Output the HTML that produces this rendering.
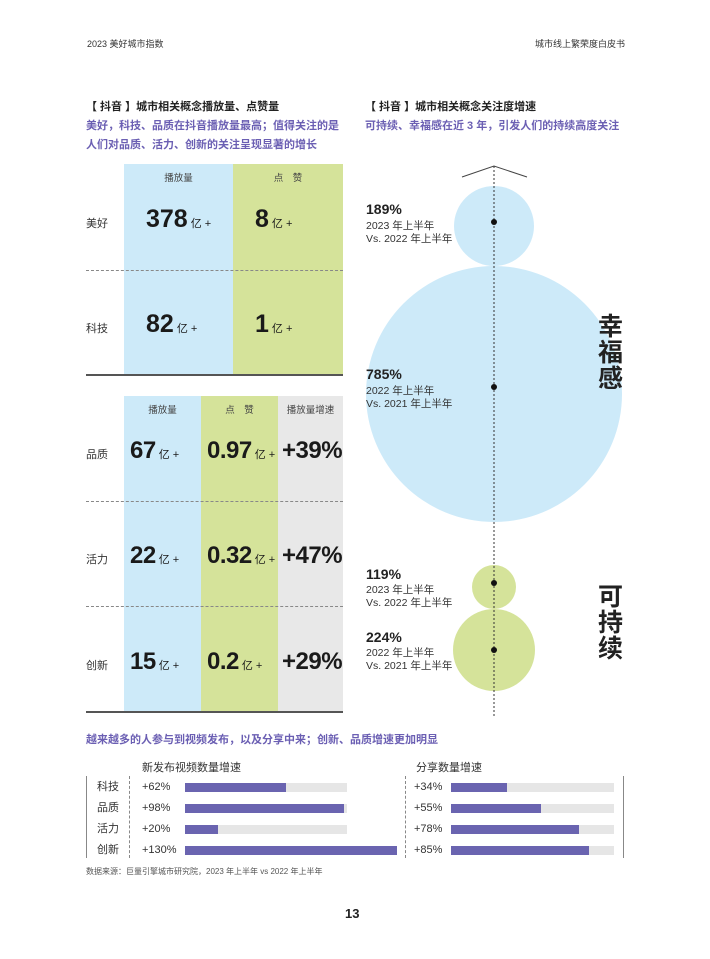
<!DOCTYPE html>
<html><head><meta charset="utf-8"><style>
*{margin:0;padding:0;box-sizing:border-box}
body{width:710px;height:959px;background:#fff;position:relative;font-family:"Liberation Sans","Noto Sans CJK SC",sans-serif;color:#222;overflow:hidden}
.a{position:absolute;white-space:nowrap}
.t{font-size:11px;font-weight:bold;color:#222}
.p{font-size:11px;font-weight:bold;color:#6b5fb3;line-height:19px}
.big{font-weight:bold;font-size:25px;color:#1a1a1a}
.b2{font-size:24px;letter-spacing:-0.5px}
.big small{font-size:11px;font-weight:normal;margin-left:3px;letter-spacing:0}
.h{font-size:9.5px;color:#444}
.lbl{font-size:11px;color:#333}
.pc{font-size:14px;font-weight:bold;color:#222}
.sub{font-size:10.5px;color:#333;line-height:13px}
.track{position:absolute;height:9px;background:#e6e6e6}
.fill{position:absolute;height:9px;background:#6a64b0}
</style></head><body>
<div class="a" style="left:87px;top:37px;font-size:9px;color:#333">2023 美好城市指数</div>
<div class="a" style="left:535px;top:37px;font-size:9px;color:#333">城市线上繁荣度白皮书</div>

<div class="a t" style="left:86px;top:98px">【 抖音 】城市相关概念播放量、点赞量</div>
<div class="a p" style="left:86px;top:117px;white-space:normal;width:262px">美好，科技、品质在抖音播放量最高；值得关注的是人们对品质、活力、创新的关注呈现显著的增长</div>

<!-- table1 -->
<div class="a" style="left:124px;top:164px;width:109px;height:211px;background:#cdeaf9"></div>
<div class="a" style="left:233px;top:164px;width:110px;height:211px;background:#d5e39a"></div>
<div class="a h" style="left:124px;top:170px;width:109px;text-align:center">播放量</div>
<div class="a h" style="left:233px;top:170px;width:110px;text-align:center">点　赞</div>
<div class="a" style="left:86px;top:270px;width:257px;border-top:1px dashed #888"></div>
<div class="a" style="left:86px;top:374px;width:257px;border-top:2px solid #555"></div>
<div class="a lbl" style="left:86px;top:215px">美好</div>
<div class="a lbl" style="left:86px;top:320px">科技</div>
<div class="a big" style="left:146px;top:205px">378<small>亿 +</small></div>
<div class="a big" style="left:255px;top:205px">8<small>亿 +</small></div>
<div class="a big" style="left:146px;top:310px">82<small>亿 +</small></div>
<div class="a big" style="left:255px;top:310px">1<small>亿 +</small></div>

<!-- table2 -->
<div class="a" style="left:124px;top:396px;width:77px;height:316px;background:#cdeaf9"></div>
<div class="a" style="left:201px;top:396px;width:77px;height:316px;background:#d5e39a"></div>
<div class="a" style="left:278px;top:396px;width:65px;height:316px;background:#e8e8e8"></div>
<div class="a h" style="left:124px;top:402px;width:77px;text-align:center">播放量</div>
<div class="a h" style="left:201px;top:402px;width:77px;text-align:center">点　赞</div>
<div class="a h" style="left:278px;top:402px;width:65px;text-align:center">播放量增速</div>
<div class="a" style="left:86px;top:501px;width:257px;border-top:1px dashed #888"></div>
<div class="a" style="left:86px;top:606px;width:257px;border-top:1px dashed #888"></div>
<div class="a" style="left:86px;top:711px;width:257px;border-top:2px solid #555"></div>
<div class="a lbl" style="left:86px;top:446px">品质</div>
<div class="a lbl" style="left:86px;top:551px">活力</div>
<div class="a lbl" style="left:86px;top:657px">创新</div>
<div class="a big b2" style="left:130px;top:437px">67<small>亿 +</small></div>
<div class="a big b2" style="left:207px;top:437px">0.97<small>亿 +</small></div>
<div class="a big b2" style="left:282px;top:437px">+39%</div>
<div class="a big b2" style="left:130px;top:542px">22<small>亿 +</small></div>
<div class="a big b2" style="left:207px;top:542px">0.32<small>亿 +</small></div>
<div class="a big b2" style="left:282px;top:542px">+47%</div>
<div class="a big b2" style="left:130px;top:648px">15<small>亿 +</small></div>
<div class="a big b2" style="left:207px;top:648px">0.2<small>亿 +</small></div>
<div class="a big b2" style="left:282px;top:648px">+29%</div>

<!-- right -->
<div class="a t" style="left:365px;top:98px">【 抖音 】城市相关概念关注度增速</div>
<div class="a p" style="left:365px;top:117px">可持续、幸福感在近 3 年，引发人们的持续高度关注</div>
<svg class="a" style="left:0;top:0" width="710" height="959">
<circle cx="494" cy="226" r="40" fill="#cdeaf9"/>
<circle cx="494" cy="394" r="128" fill="#cdeaf9"/>
<circle cx="494" cy="587" r="22" fill="#d5e39a"/>
<circle cx="494" cy="650" r="41" fill="#d5e39a"/>
<line x1="494" y1="166" x2="494" y2="716" stroke="#333" stroke-width="1" stroke-dasharray="2,2"/>
<polyline points="462,177 494,166 527,177" fill="none" stroke="#444" stroke-width="1"/>
<circle cx="494" cy="222" r="3" fill="#111"/>
<circle cx="494" cy="387" r="3" fill="#111"/>
<circle cx="494" cy="583" r="3" fill="#111"/>
<circle cx="494" cy="650" r="3" fill="#111"/>
</svg>
<div class="a pc" style="left:366px;top:201px">189%</div>
<div class="a sub" style="left:366px;top:220px">2023 年上半年<br>Vs. 2022 年上半年</div>
<div class="a pc" style="left:366px;top:366px">785%</div>
<div class="a sub" style="left:366px;top:385px">2022 年上半年<br>Vs. 2021 年上半年</div>
<div class="a pc" style="left:366px;top:566px">119%</div>
<div class="a sub" style="left:366px;top:584px">2023 年上半年<br>Vs. 2022 年上半年</div>
<div class="a pc" style="left:366px;top:629px">224%</div>
<div class="a sub" style="left:366px;top:647px">2022 年上半年<br>Vs. 2021 年上半年</div>
<div class="a" style="left:598px;top:314px;font-size:25px;font-weight:bold;line-height:26px;white-space:normal;width:28px">幸福感</div>
<div class="a" style="left:598px;top:584px;font-size:25px;font-weight:bold;line-height:26px;white-space:normal;width:28px">可持续</div>

<!-- bars -->
<div class="a p" style="left:86px;top:731px">越来越多的人参与到视频发布，以及分享中来；创新、品质增速更加明显</div>
<div class="a" style="left:142px;top:759px;font-size:11px;color:#333">新发布视频数量增速</div>
<div class="a" style="left:416px;top:759px;font-size:11px;color:#333">分享数量增速</div>
<div class="a" style="left:86px;top:776px;height:82px;border-left:1.5px solid #888"></div>
<div class="a" style="left:129px;top:776px;height:82px;border-left:1px dashed #888"></div>
<div class="a" style="left:405px;top:776px;height:82px;border-left:1px dashed #888"></div>
<div class="a" style="left:623px;top:776px;height:82px;border-left:1.5px solid #888"></div>

<div class="a lbl" style="left:97px;top:781px;line-height:12px">科技</div>
<div class="a lbl" style="left:97px;top:802px;line-height:12px">品质</div>
<div class="a lbl" style="left:97px;top:823px;line-height:12px">活力</div>
<div class="a lbl" style="left:97px;top:844px;line-height:12px">创新</div>
<div class="a lbl" style="left:142px;top:781px;line-height:12px">+62%</div>
<div class="a lbl" style="left:142px;top:802px;line-height:12px">+98%</div>
<div class="a lbl" style="left:142px;top:823px;line-height:12px">+20%</div>
<div class="a lbl" style="left:142px;top:844px;line-height:12px">+130%</div>
<div class="track" style="left:185px;top:783px;width:162px"></div><div class="fill" style="left:185px;top:783px;width:101px"></div>
<div class="track" style="left:185px;top:804px;width:162px"></div><div class="fill" style="left:185px;top:804px;width:159px"></div>
<div class="track" style="left:185px;top:825px;width:162px"></div><div class="fill" style="left:185px;top:825px;width:33px"></div>
<div class="fill" style="left:185px;top:846px;width:212px"></div>

<div class="a lbl" style="left:414px;top:781px;line-height:12px">+34%</div>
<div class="a lbl" style="left:414px;top:802px;line-height:12px">+55%</div>
<div class="a lbl" style="left:414px;top:823px;line-height:12px">+78%</div>
<div class="a lbl" style="left:414px;top:844px;line-height:12px">+85%</div>
<div class="track" style="left:451px;top:783px;width:163px"></div><div class="fill" style="left:451px;top:783px;width:56px"></div>
<div class="track" style="left:451px;top:804px;width:163px"></div><div class="fill" style="left:451px;top:804px;width:90px"></div>
<div class="track" style="left:451px;top:825px;width:163px"></div><div class="fill" style="left:451px;top:825px;width:128px"></div>
<div class="track" style="left:451px;top:846px;width:163px"></div><div class="fill" style="left:451px;top:846px;width:138px"></div>

<div class="a" style="left:86px;top:866px;font-size:8px;color:#555">数据来源：巨量引擎城市研究院，2023 年上半年 vs 2022 年上半年</div>
<div class="a" style="left:345px;top:906px;font-size:13px;font-weight:bold">13</div>
</body></html>
